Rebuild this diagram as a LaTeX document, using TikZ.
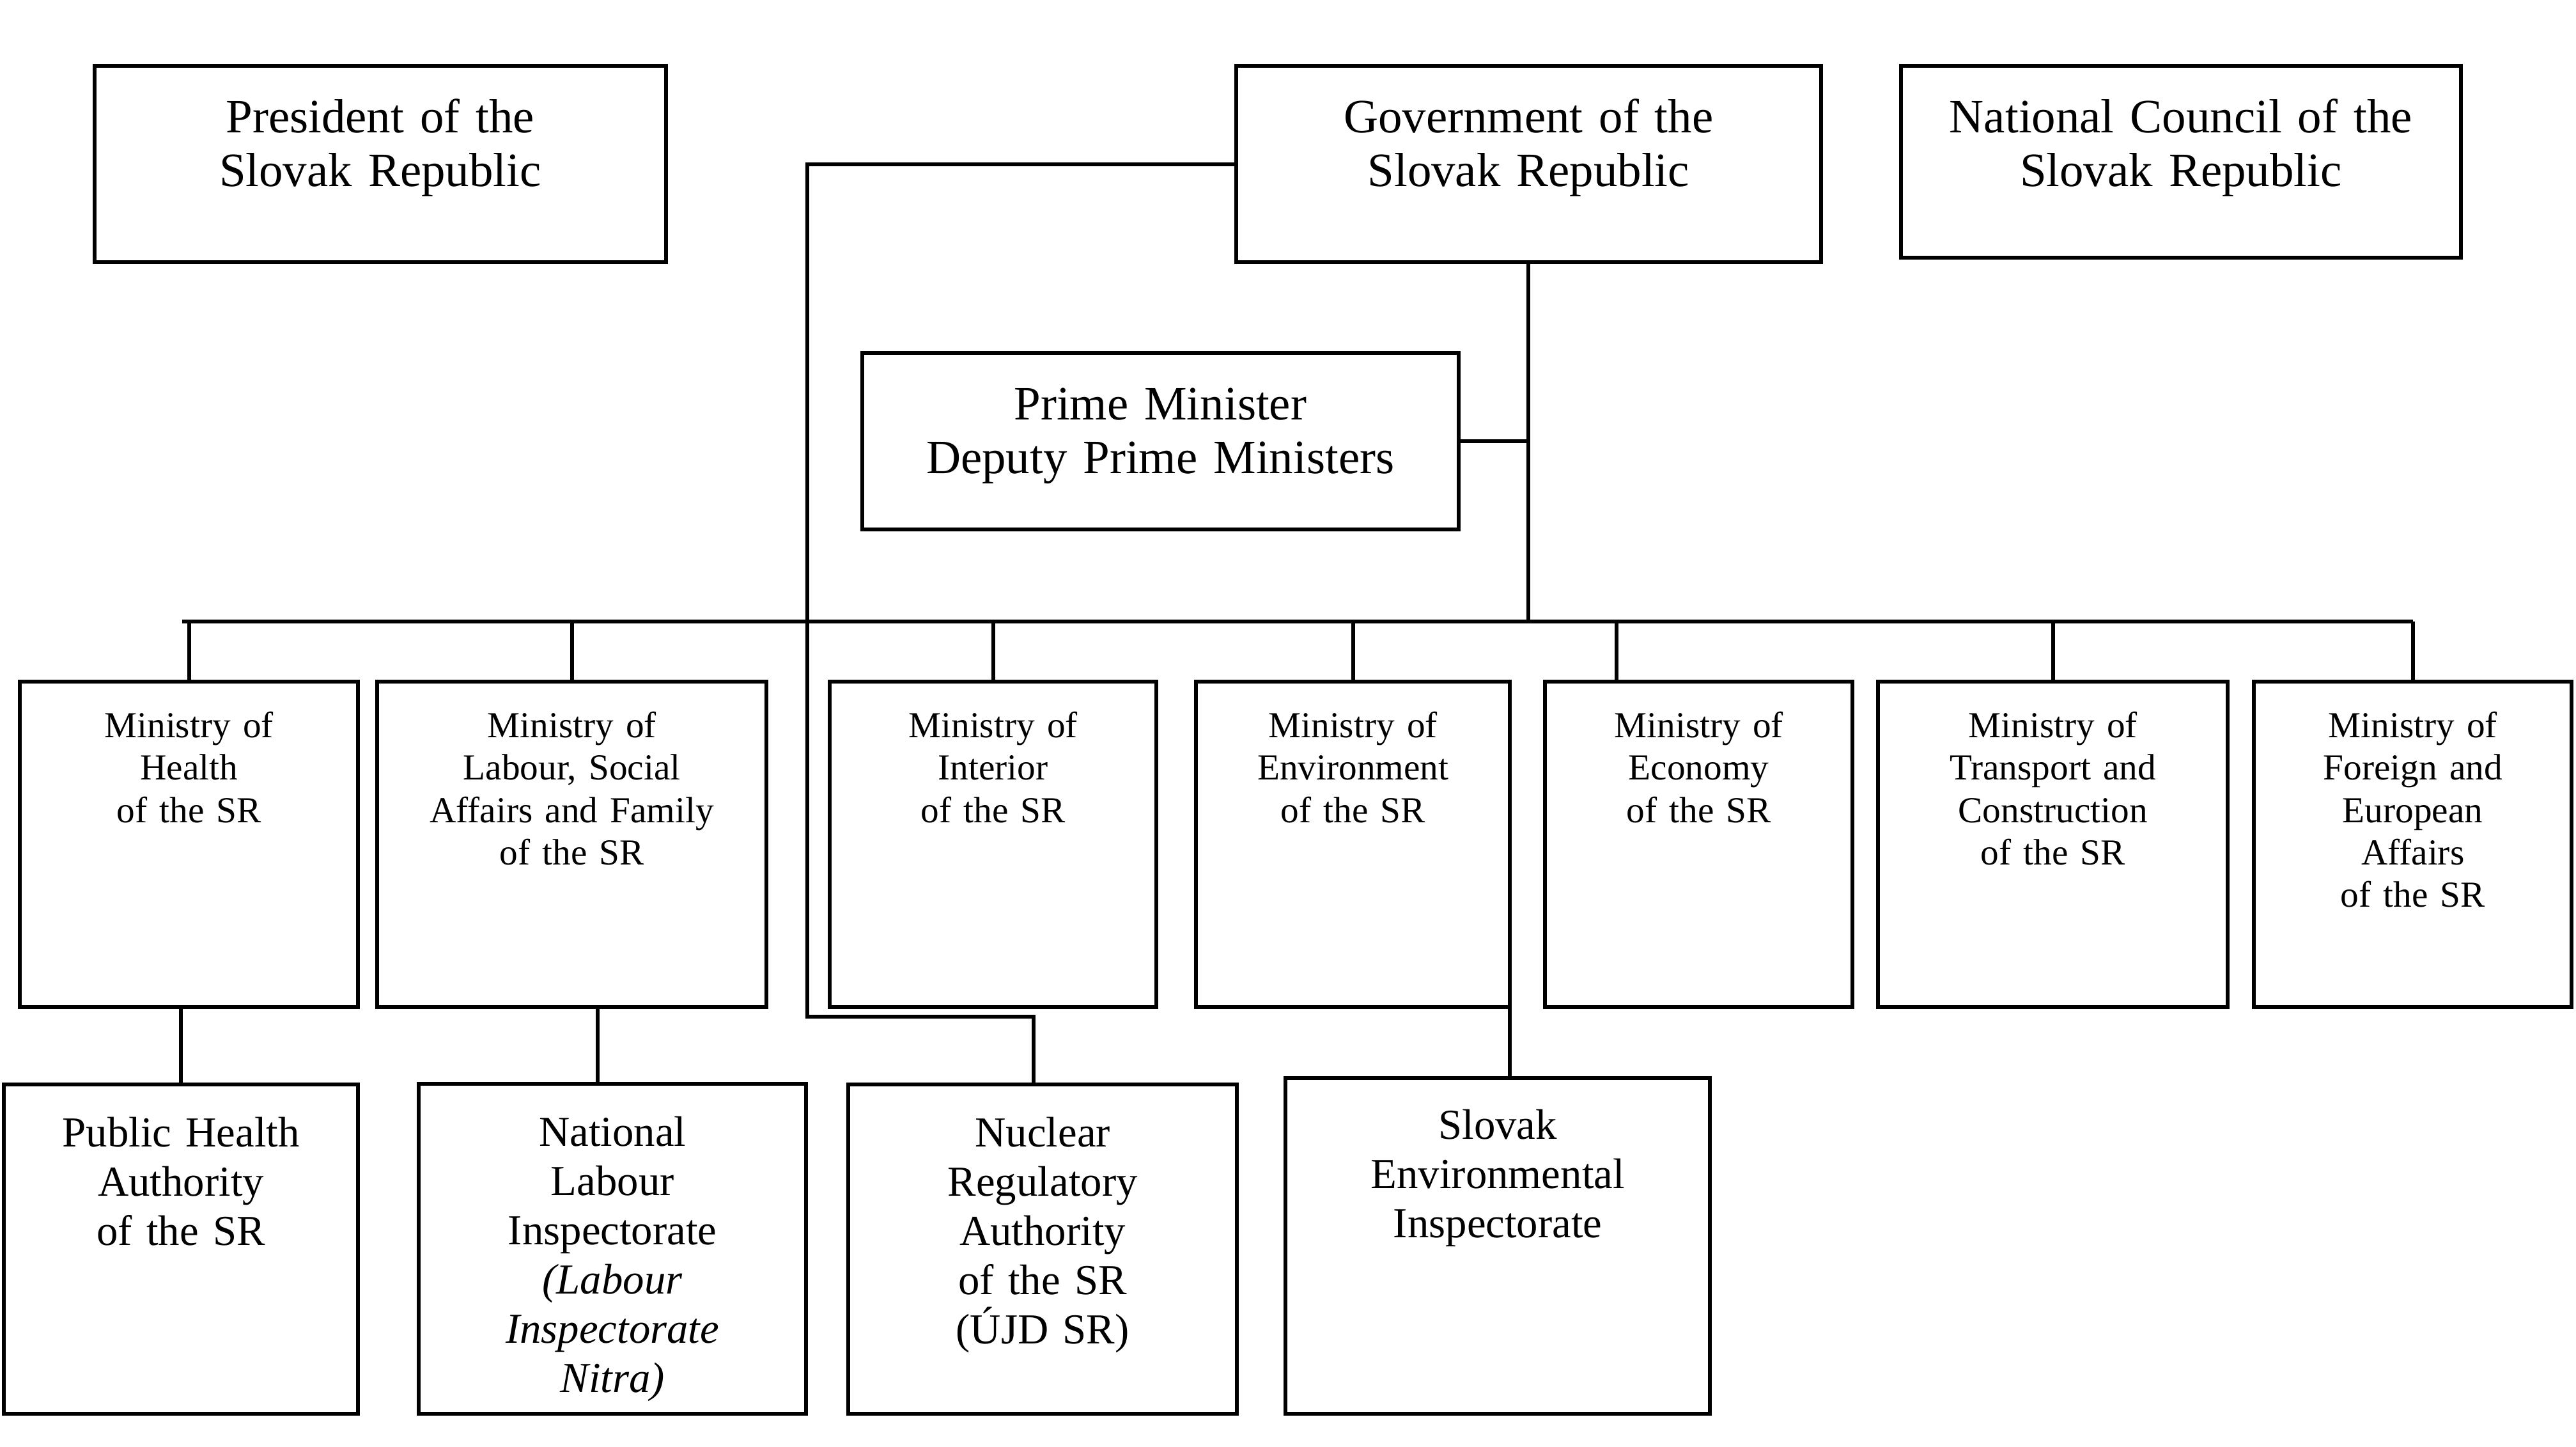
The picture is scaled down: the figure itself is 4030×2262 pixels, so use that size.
\documentclass[tikz,border=0pt]{standalone}
\usepackage{fontspec}
\setmainfont{Liberation Serif}
\begin{document}
\begin{tikzpicture}[x=0.01cm,y=-0.01cm,
  bx/.style={draw, line width=1.7pt, inner sep=0pt, outer sep=0pt, align=center, anchor=north west},
  topf/.style={font=\fontsize{21.3}{23.9}\selectfont, text height=1.04cm},
  minf/.style={font=\fontsize{16.3}{18.9}\selectfont, text height=0.87cm},
  botf/.style={font=\fontsize{19}{21.9}\selectfont, text height=0.97cm},
  wh/.style 2 args={text width=#1cm, text depth=#2cm},
  ln/.style={line width=1.7pt}]
\useasboundingbox (0,0) rectangle (4030,2262);
% top row
\node[bx,topf,wh={8.93}{2.03}] (pres) at (148,103) {President of the\\Slovak Republic};
\node[bx,topf,wh={9.14}{2.03}] (gov) at (1934,103) {Government of the\\Slovak Republic};
\node[bx,topf,wh={8.75}{1.96}] (nc) at (2974,103) {National Council of the\\Slovak Republic};
\node[bx,topf,wh={9.32}{1.72}] (pm) at (1349,552) {Prime Minister\\Deputy Prime Ministers};
% ministries
\node[bx,minf,wh={5.29}{4.22}] (health) at (31,1066) {Ministry of\\Health\\of the SR};
\node[bx,minf,wh={6.09}{4.22}] (labour) at (590,1066) {Ministry of\\Labour, Social\\Affairs and Family\\of the SR};
\node[bx,minf,wh={5.11}{4.22}] (interior) at (1298,1066) {Ministry of\\Interior\\of the SR};
\node[bx,minf,wh={4.91}{4.22}] (env) at (1871,1066) {Ministry of\\Environment\\of the SR};
\node[bx,minf,wh={4.81}{4.22}] (economy) at (2417,1066) {Ministry of\\Economy\\of the SR};
\node[bx,minf,wh={5.47}{4.22}] (transport) at (2938,1066) {Ministry of\\Transport and\\Construction\\of the SR};
\node[bx,minf,wh={4.97}{4.22}] (foreign) at (3526,1066) {Ministry of\\Foreign and\\European\\Affairs\\of the SR};
% bottom row
\node[bx,botf,wh={5.54}{4.18}] (pha) at (6,1696) {Public Health\\Authority\\of the SR};
\node[bx,botf,wh={6.06}{4.19}] (nli) at (655,1695) {National\\Labour\\Inspectorate\\\textit{(Labour}\\\textit{Inspectorate}\\\textit{Nitra)}};
\node[bx,botf,wh={6.08}{4.18}] (nra) at (1327,1696) {Nuclear\\Regulatory\\Authority\\of the SR\\(ÚJD SR)};
\node[bx,botf,text height=0.95cm,wh={6.64}{4.30}] (sei) at (2011,1686) {Slovak\\Environmental\\Inspectorate};
% coordinates
\coordinate (busL) at (285,972);
\coordinate (busR) at (3775,972);
\coordinate (nrb) at (1263,1590);
\coordinate (nrin) at ([xshift=-0.14cm]nra.north);
\coordinate (ecod) at ([xshift=-1.285cm]economy.north);
\coordinate (nlin) at ([xshift=-0.23cm]nli.north);
% connectors
\draw[ln] (busL) -- (busR);
\draw[ln] (gov.south) -- (gov.south |- busL);
\draw[ln] (pm.east) -- (pm.east -| gov.south);
\draw[ln] (gov.west) -| (nrb) -| (nrin);
\foreach \m in {health,labour,interior,env,transport,foreign}
  \draw[ln] (\m.north) -- (\m.north |- busL);
\draw[ln] (ecod) -- (ecod |- busL);
\draw[ln] (pha.north) -- (pha.north |- health.south);
\draw[ln] (nlin) -- (nlin |- labour.south);
\draw[ln] (env.south east) -- (env.south east |- sei.north);
\end{tikzpicture}
\end{document}
